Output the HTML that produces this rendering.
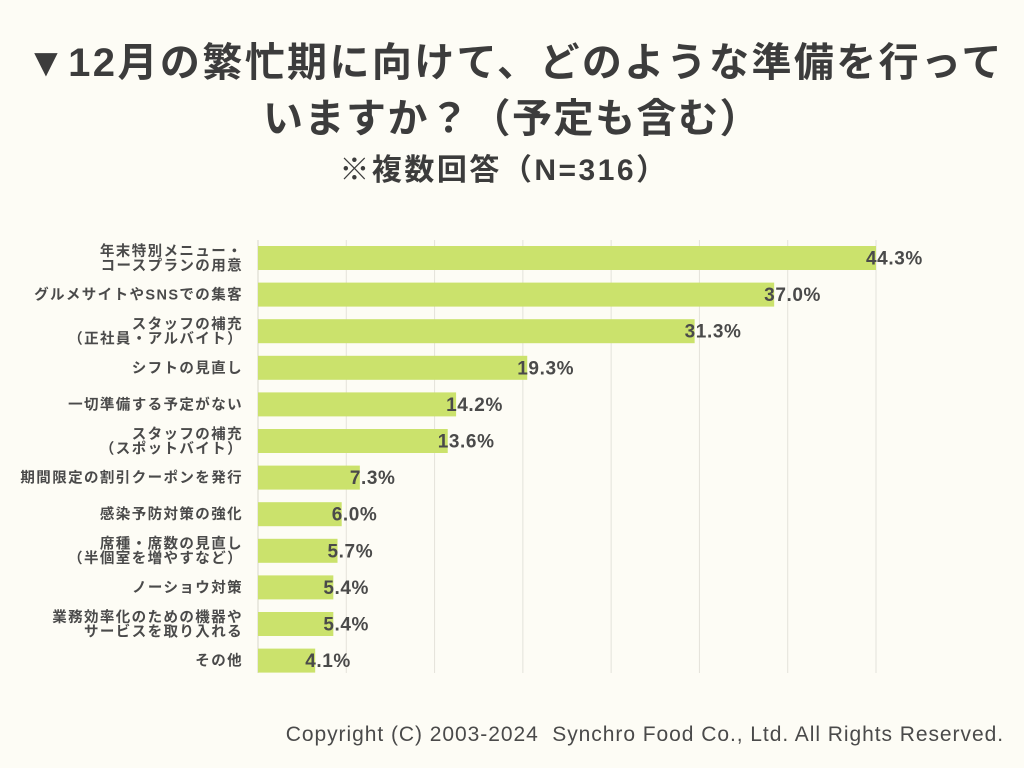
<!DOCTYPE html>
<html><head><meta charset="utf-8"><style>
body{margin:0;width:1024px;height:768px;background:#fdfcf5;font-family:"Liberation Sans","Noto Sans CJK JP",sans-serif;overflow:hidden;position:relative;color:#454545}
.t{position:absolute;left:0;width:1024px;text-align:center;font-weight:bold;color:#3c3c3c;white-space:nowrap}
</style></head><body>
<div class="t" style="top:30px;font-size:40px;left:3px;letter-spacing:2.4px">▼12月の繁忙期に向けて、どのような準備を行って</div>
<div class="t" style="top:86px;font-size:40px;letter-spacing:1.5px">いますか？（予定も含む）</div>
<div class="t" style="top:145px;font-size:30px;left:-8px;letter-spacing:2.5px">※複数回答（N=316）</div>
<svg id="c" width="1024" height="768" style="position:absolute;left:0;top:0"></svg>
<div style="position:absolute;right:20px;top:723px;font-size:21px;color:#4a4a4a;letter-spacing:0.95px">Copyright (C) 2003-2024&nbsp; Synchro Food Co., Ltd. All Rights Reserved.</div>
<script>
const categories=[["年末特別メニュー・","コースプランの用意"],["グルメサイトやSNSでの集客"],["スタッフの補充","（正社員・アルバイト）"],["シフトの見直し"],["一切準備する予定がない"],["スタッフの補充","（スポットバイト）"],["期間限定の割引クーポンを発行"],["感染予防対策の強化"],["席種・席数の見直し","（半個室を増やすなど）"],["ノーショウ対策"],["業務効率化のための機器や","サービスを取り入れる"],["その他"]];
const values=[44.3,37.0,31.3,19.3,14.2,13.6,7.3,6.0,5.7,5.4,5.4,4.1];
const labels=["44.3%","37.0%","31.3%","19.3%","14.2%","13.6%","7.3%","6.0%","5.7%","5.4%","5.4%","4.1%"];
const gridCount=7;
const svg=document.getElementById('c');const NS='http://www.w3.org/2000/svg';
const x0=258,x1=876,vmax=44.3,top0=246,step=36.6,bh=24,yTop=240,yBot=673;
const xs=v=>x0+(x1-x0)*v/vmax;const ys=i=>top0+i*step;
function mk(t,a){const e=document.createElementNS(NS,t);for(const k in a)e.setAttribute(k,a[k]);svg.appendChild(e);return e;}
for(let g=1;g<=gridCount;g++){const x=x0+(x1-x0)*g/gridCount;const l=mk('line',{x1:x,x2:x,y1:yTop,y2:yBot,stroke:'#e4e2da','stroke-width':1});

}
const ax=mk('line',{x1:x0,x2:x0,y1:yTop,y2:yBot,stroke:'#d8d6cc','stroke-width':1});


values.forEach((v,i)=>{const y=ys(i);
const r=mk('rect',{x:x0,y:y,width:xs(v)-x0,height:bh,fill:'#cbe26c'});


const t=mk('text',{x:xs(v)-10,y:y+bh/2+6.5,'font-size':19,'font-weight':'bold',fill:'#4a4a4a','letter-spacing':0.6});t.textContent=labels[i];


const c=categories[i];const cy=y+bh/2;
c.forEach((s,j)=>{const tt=mk('text',{x:243,y:cy+5+(j-(c.length-1)/2)*14.5,'font-size':14.5,'font-weight':'bold','text-anchor':'end',fill:'#4a4a4a','letter-spacing':1.4});tt.textContent=s;

});
});
</script>
</body></html>
